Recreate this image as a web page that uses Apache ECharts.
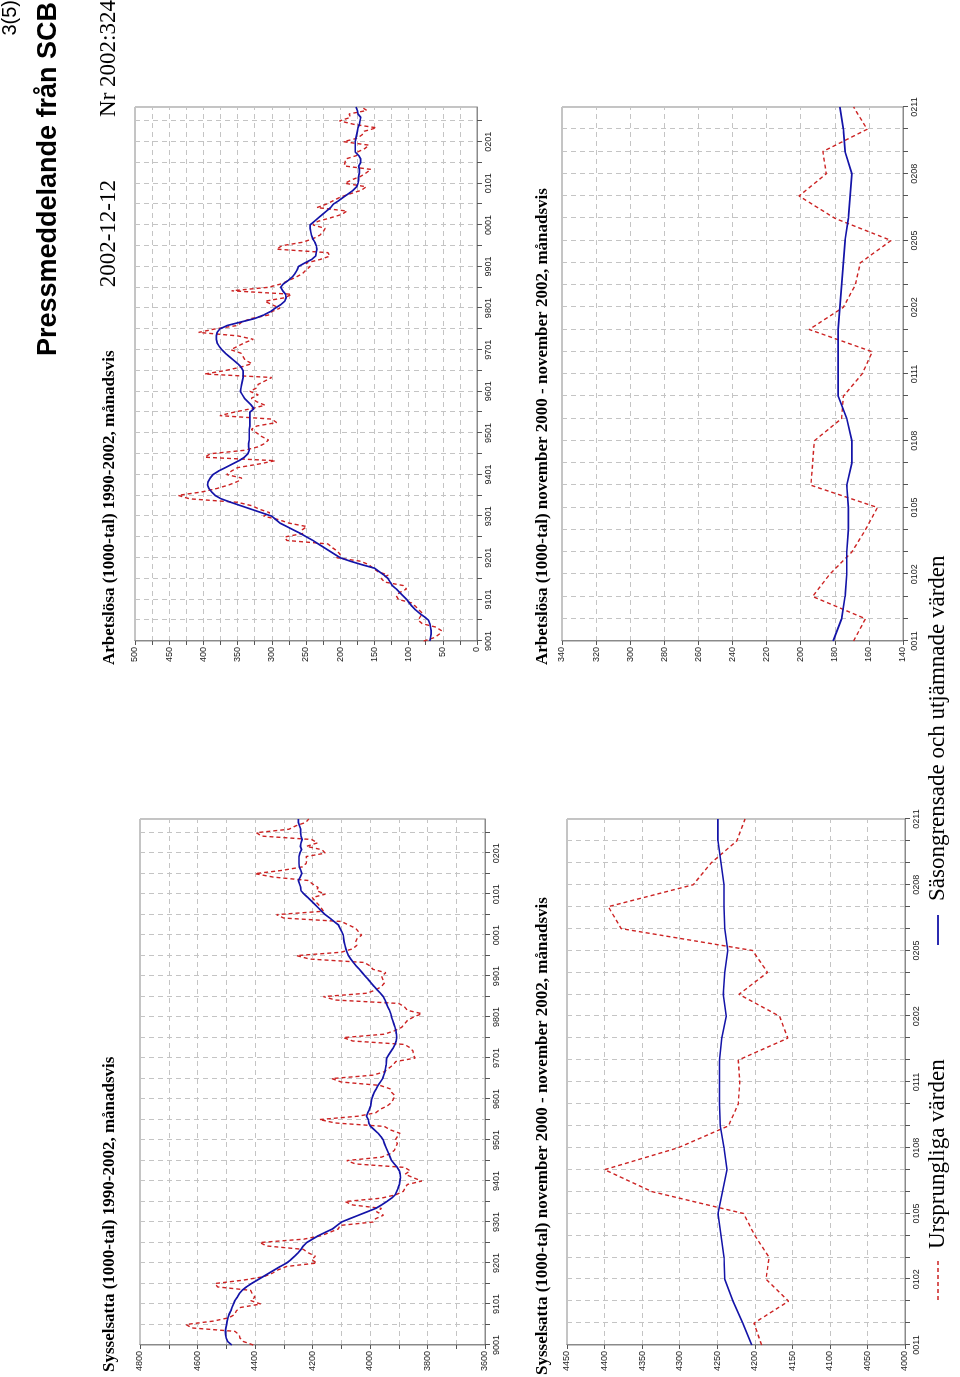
<!DOCTYPE html>
<html><head><meta charset="utf-8">
<script src="https://cdn.jsdelivr.net/npm/echarts/dist/echarts.min.js"></script>
<style>
html,body{margin:0;padding:0;background:#fff;overflow:hidden;width:960px;height:1377px;}
#page{position:absolute;left:0;top:0;width:1377px;height:960px;transform-origin:0 0;transform:translate(0px,1377px) rotate(-90deg);background:#fff;}
</style></head><body><div id="page"></div>
<script>
// Category labels (YYMM), Jan 1990 - Nov 2002
const monthsLong = [];
for (let y = 1990; y <= 2002; y++) {
  for (let m = 1; m <= 12; m++) {
    if (y === 2002 && m > 11) break;
    monthsLong.push(String(y % 100).padStart(2, '0') + String(m).padStart(2, '0'));
  }
}
const shortStart = 130; // Nov 2000
const monthsShort = monthsLong.slice(shortStart);

// Sysselsatta (1000-tal), ursprungliga värden
const empOrig = [
  4406, 4440, 4452, 4455, 4470, 4620, 4640, 4545, 4490, 4470, 4465, 4450,
  4380, 4415, 4400, 4410, 4415, 4530, 4539, 4440, 4370, 4340, 4320, 4290,
  4185, 4203, 4190, 4215, 4232, 4360, 4383, 4230, 4170, 4140, 4110, 4105,
  3990, 3980, 3953, 3977, 3960, 4060, 4087, 3960, 3910, 3884, 3878, 3870,
  3820, 3850, 3878, 3860, 3880, 4050, 4081, 3960, 3930, 3915, 3910, 3905,
  3913, 3905, 3896, 3930, 3950, 4120, 4176, 4040, 3980, 3965, 3940, 3925,
  3919, 3913, 3925, 3930, 3965, 4100, 4133, 3990, 3950, 3935, 3920, 3910,
  3843, 3850, 3850, 3860, 3880, 4060, 4093, 3950, 3915, 3890, 3880, 3870,
  3849, 3820, 3870, 3880, 3900, 4120, 4162, 4010, 3979, 3960, 3950, 3955,
  3960, 3945, 3990, 4000, 4020, 4210, 4255, 4100, 4060, 4046, 4050, 4045,
  4029, 4040, 4050, 4075, 4100, 4300, 4325, 4162, 4170, 4180, 4191, 4201,
  4155, 4185, 4181, 4200, 4215, 4337, 4400, 4302, 4235, 4222, 4220, 4222,
  4156, 4167, 4221, 4183, 4203, 4378, 4395, 4282, 4258, 4224, 4213
];
// Sysselsatta (1000-tal), säsongrensade och utjämnade värden
const empSA = [
  4481, 4495, 4500, 4502, 4503, 4501, 4499, 4497, 4494, 4490, 4484, 4480,
  4475, 4470, 4462, 4455, 4445, 4430, 4412, 4392, 4372, 4352, 4332, 4312,
  4290, 4275, 4262, 4250, 4240, 4232, 4220, 4200, 4180, 4155, 4130, 4115,
  4099, 4070, 4040, 4010, 3980, 3960, 3942, 3925, 3912, 3907, 3902, 3898,
  3896, 3894, 3895, 3898, 3905, 3915, 3925, 3930, 3935, 3940, 3945, 3950,
  3954, 3962, 3972, 3985, 3998, 4004, 4006, 4012, 4008, 4002, 3998, 3996,
  3994, 3990, 3985, 3978, 3972, 3964, 3956, 3952, 3948, 3946, 3944, 3943,
  3942, 3935, 3927, 3919, 3913, 3909, 3907, 3908, 3910, 3913, 3917, 3921,
  3925, 3928, 3932, 3938, 3943, 3948, 3954, 3964, 3975, 3986, 3996, 4006,
  4017, 4027, 4037, 4048, 4058, 4067, 4075, 4080, 4084, 4087, 4090, 4092,
  4093, 4098, 4104, 4110, 4125, 4140, 4156, 4168, 4180, 4192, 4204, 4216,
  4229, 4240, 4241, 4245, 4249, 4243, 4237, 4241, 4246, 4247, 4247, 4247,
  4244, 4238, 4242, 4240, 4236, 4240, 4241, 4241, 4245, 4249, 4249
];
// Arbetslösa (1000-tal), ursprungliga värden
const unempOrig = [
  78, 62, 55, 52, 60, 80, 86, 83, 80, 85, 90, 96,
  115, 118, 113, 103, 108, 135, 140, 130, 145, 152, 158, 170,
  205, 200, 205, 212, 218, 278, 281, 255, 256, 249, 275, 290,
  312, 303, 318, 329, 350, 420, 437, 402, 380, 363, 350, 344,
  366, 359, 350, 320, 295, 398, 390, 340, 320, 310, 305, 315,
  322, 330, 322, 293, 300, 376, 355, 330, 310, 322, 330, 320,
  332, 322, 320, 310, 300, 398, 368, 345, 329, 339, 342, 345,
  360, 350, 340, 327, 350, 407, 383, 350, 344, 330, 305, 300,
  288, 300, 310, 281, 271, 359, 305, 286, 275, 264, 255, 250,
  244, 250, 230, 215, 218, 293, 285, 255, 240, 230, 225, 222,
  240, 233, 215, 198, 190, 234, 220, 210, 200, 185, 169, 162,
  193, 183, 170, 162, 155, 194, 193, 192, 176, 175, 164, 158,
  195, 175, 168, 165, 147, 180, 201, 185, 187, 161, 169
];
// Arbetslösa (1000-tal), säsongrensade och utjämnade värden
const unempSA = [
  69, 68, 67, 67, 68, 69, 71, 77, 84, 90, 95, 99,
  103, 108, 113, 118, 124, 127, 130, 136, 143, 150, 168, 185,
  200, 208, 216, 224, 232, 240, 249, 258, 268, 278, 288, 294,
  300, 315, 330, 345, 360, 374, 383, 388, 392, 394, 393, 390,
  386, 378, 368, 358, 348, 340, 335, 333, 334, 334, 333, 333,
  333, 333, 332, 332, 332, 332, 332, 326, 330, 335, 340, 343,
  346, 345, 344, 343, 342, 342, 342, 345, 350, 356, 362, 368,
  373, 377, 380, 381, 381, 380, 376, 365, 345, 325, 312, 302,
  295, 287, 281, 279, 280, 284, 287, 283, 276, 270, 266, 263,
  261, 252, 242, 236, 235, 234, 235, 237, 240, 242, 243, 244,
  244, 238, 232, 226, 220, 214, 210, 202, 195, 188, 181, 176,
  174, 173, 173, 172, 172, 173, 170, 170, 173, 178, 178, 178,
  178, 177, 176, 175, 174, 172, 171, 170, 174, 175, 177
];

const titles = [
  'Sysselsatta (1000-tal) 1990-2002, månadsvis',
  'Arbetslösa (1000-tal) 1990-2002, månadsvis',
  'Sysselsatta (1000-tal) november 2000 - november 2002, månadsvis',
  'Arbetslösa (1000-tal) november 2000 - november 2002, månadsvis'
];
const seriesNames = ['Ursprungliga värden', 'Säsongrensade och utjämnade värden'];

const RED = '#cc2222', BLUE = '#1414a8', FRAME = '#8a8a8a', GRID = '#c4c4c4';
const sans = 'Liberation Sans', serif = 'Liberation Serif';

const grids = [
  {left: 32, width: 526, top: 140, height: 345},
  {left: 736, width: 534, top: 135, height: 342},
  {left: 32, width: 526, top: 567, height: 338},
  {left: 736, width: 534, top: 562, height: 341}
].map(g => Object.assign({show: true, borderColor: FRAME, borderWidth: 1, backgroundColor: '#fff'}, g));

function catAxis(idx, data, labelEvery, tickEvery) {
  return {
    type: 'category', gridIndex: idx, data: data, boundaryGap: false,
    axisLine: {lineStyle: {color: FRAME, width: 1}},
    axisTick: {interval: i => i % tickEvery === 0, length: 5, lineStyle: {color: '#555'}},
    axisLabel: {interval: i => i % labelEvery === 0, fontFamily: sans, fontSize: 9, color: '#222', margin: 7},
    splitLine: {show: true, interval: i => i % tickEvery === 0, lineStyle: {type: [5, 4], color: GRID}}
  };
}
function valAxis(idx, min, max, step, labelStep) {
  return {
    type: 'value', gridIndex: idx, min: min, max: max, interval: step,
    axisLine: {show: true, lineStyle: {color: FRAME}},
    axisTick: {show: true, length: 4, lineStyle: {color: '#555'}},
    axisLabel: {fontFamily: sans, fontSize: 9, color: '#222', margin: 6,
      formatter: v => ((v - min) % labelStep === 0 ? String(v) : '')},
    splitLine: {show: true, lineStyle: {type: [5, 4], color: GRID}}
  };
}

function lines(idx, orig, sa) {
  return [
    {name: seriesNames[0], type: 'line', xAxisIndex: idx, yAxisIndex: idx, data: orig,
     symbol: 'none', showSymbol: false, animation: false,
     lineStyle: {color: RED, width: 1.4, type: [4, 3]}, itemStyle: {color: RED}},
    {name: seriesNames[1], type: 'line', xAxisIndex: idx, yAxisIndex: idx, data: sa,
     symbol: 'none', showSymbol: false, animation: false,
     lineStyle: {color: BLUE, width: 1.7}, itemStyle: {color: BLUE}}
  ];
}

const titleStyle = {fontFamily: serif, fontWeight: 'bold', fontSize: 17, color: '#000'};
const legendY = 938;
const option = {
  backgroundColor: '#fff',
  animation: false,
  title: [
    {text: titles[0], left: 5, top: 101, padding: 0, textStyle: titleStyle},
    {text: titles[1], left: 712, top: 101, padding: 0, textStyle: titleStyle},
    {text: titles[2], left: 2, top: 534, padding: 0, textStyle: titleStyle},
    {text: titles[3], left: 712, top: 534, padding: 0, textStyle: titleStyle},
    {text: 'Pressmeddelande från SCB', right: 2, top: 35, padding: 0,
     textStyle: {fontFamily: sans, fontWeight: 'bold', fontSize: 27, color: '#000'}},
    {text: '3(5)', right: 0, top: 0, padding: 0,
     textStyle: {fontFamily: sans, fontWeight: 'normal', fontSize: 20, color: '#000'}},
    {text: '2002-12-12', right: 180, top: 97, padding: 0,
     textStyle: {fontFamily: serif, fontWeight: 'normal', fontSize: 23, color: '#000'}},
    {text: 'Nr 2002:324', right: 0, top: 97, padding: 0,
     textStyle: {fontFamily: serif, fontWeight: 'normal', fontSize: 23, color: '#000'}}
  ],
  graphic: [
    {type: 'line', shape: {x1: 77, y1: legendY, x2: 117, y2: legendY},
     style: {stroke: RED, lineWidth: 1.4, lineDash: [4, 3]}},
    {type: 'text', x: 128, y: legendY,
     style: {text: seriesNames[0], fill: '#000', fontFamily: serif, fontSize: 23, verticalAlign: 'middle', align: 'left'}},
    {type: 'line', shape: {x1: 432, y1: legendY, x2: 462, y2: legendY},
     style: {stroke: BLUE, lineWidth: 1.8}},
    {type: 'text', x: 476, y: legendY,
     style: {text: seriesNames[1], fill: '#000', fontFamily: serif, fontSize: 23, verticalAlign: 'middle', align: 'left'}}
  ],
  grid: grids,
  xAxis: [
    catAxis(0, monthsLong, 12, 6),
    catAxis(1, monthsLong, 12, 6),
    catAxis(2, monthsShort, 3, 1),
    catAxis(3, monthsShort, 3, 1)
  ],
  yAxis: [
    valAxis(0, 3600, 4800, 100, 200),
    valAxis(1, 0, 500, 25, 50),
    valAxis(2, 4000, 4450, 50, 50),
    valAxis(3, 140, 340, 20, 20)
  ],
  series: [].concat(
    lines(0, empOrig, empSA),
    lines(1, unempOrig, unempSA),
    lines(2, empOrig.slice(shortStart), empSA.slice(shortStart)),
    lines(3, unempOrig.slice(shortStart), unempSA.slice(shortStart))
  )
};
const chart = echarts.init(document.getElementById('page'), null, {renderer: 'canvas', width: 1377, height: 960});
chart.setOption(option);
</script>
</body></html>
